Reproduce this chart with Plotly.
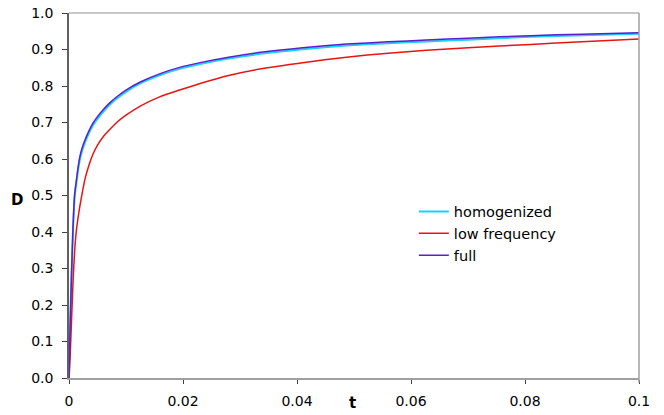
import plotly.graph_objects as go

t_vals = [0, 0.0002, 0.0004, 0.0007, 0.001, 0.0013, 0.0016, 0.0019, 0.0023, 0.0028,
          0.0035, 0.0042, 0.005, 0.006, 0.0071, 0.0085, 0.01, 0.0125, 0.016, 0.0194,
          0.023, 0.028, 0.034, 0.041, 0.0487, 0.056, 0.0627, 0.07, 0.081, 0.09, 0.1]

full = [0, 0.14, 0.26, 0.41, 0.505, 0.542, 0.578, 0.606, 0.630, 0.652,
        0.677, 0.698, 0.716, 0.735, 0.753, 0.772, 0.789, 0.811, 0.834, 0.851,
        0.864, 0.879, 0.893, 0.905, 0.915, 0.921, 0.926, 0.931, 0.938, 0.942, 0.946]

homogenized = [0, 0.14, 0.258, 0.405, 0.498, 0.535, 0.571, 0.598, 0.623, 0.645,
               0.671, 0.692, 0.710, 0.729, 0.748, 0.767, 0.784, 0.807, 0.830, 0.847,
               0.860, 0.875, 0.889, 0.901, 0.911, 0.917, 0.922, 0.927, 0.935, 0.939, 0.943]

low_frequency = [0, 0.06, 0.14, 0.26, 0.35, 0.405, 0.44, 0.47, 0.505, 0.545,
                 0.583, 0.613, 0.638, 0.661, 0.68, 0.702, 0.72, 0.745, 0.771, 0.789,
                 0.807, 0.829, 0.848, 0.864, 0.879, 0.89, 0.898, 0.905, 0.914, 0.921, 0.929]

x_tickvals = [0, 0.02, 0.04, 0.06, 0.08, 0.1]
x_ticktext = ["0", "0.02", "0.04", "0.06", "0.08", "0.1"]
y_tickvals = [0, 0.1, 0.2, 0.3, 0.4, 0.5, 0.6, 0.7, 0.8, 0.9, 1.0]

FONT = "DejaVu Sans"

fig = go.Figure()
fig.add_trace(go.Scatter(x=t_vals, y=homogenized, mode="lines", name="homogenized",
                         line=dict(color="#1ccfff", width=2, shape="spline", smoothing=0.6)))
fig.add_trace(go.Scatter(x=t_vals, y=low_frequency, mode="lines", name="low frequency",
                         line=dict(color="#e81414", width=1.5, shape="spline", smoothing=0.6)))
fig.add_trace(go.Scatter(x=t_vals, y=full, mode="lines", name="full",
                         line=dict(color="#5a1fc8", width=1.5, shape="spline", smoothing=0.6)))

fig.update_layout(
    width=664, height=415,
    margin=dict(l=69, r=25, t=13, b=37, autoexpand=False),
    paper_bgcolor="white", plot_bgcolor="white",
    font=dict(family=FONT, size=14, color="black"),
    showlegend=True,
    legend=dict(x=0.605, y=0.5, xanchor="left", yanchor="top",
                bgcolor="rgba(0,0,0,0)", font=dict(family=FONT, size=14.5),
                itemwidth=30, tracegroupgap=0),
    xaxis=dict(range=[0, 0.1], tickvals=x_tickvals, ticktext=x_ticktext,
               showgrid=False, zeroline=False, showline=True, automargin=False,
               linecolor="#a0a0a0", linewidth=2,
               ticks="outside", ticklen=4, tickcolor="#404040", tickwidth=1,
               ticklabelstandoff=5),
    yaxis=dict(range=[0, 1.0], tickvals=y_tickvals, tickformat=".1f",
               showgrid=False, zeroline=False, showline=True, automargin=False,
               linecolor="#606060", linewidth=1.5,
               ticks="outside", ticklen=5, tickcolor="#404040", tickwidth=1,
               ticklabelstandoff=6),
    shapes=[
        dict(type="line", xref="paper", yref="paper", x0=0, x1=1, y0=1, y1=1,
             line=dict(color="#c8c8c8", width=2)),
        dict(type="line", xref="paper", yref="paper", x0=1, x1=1, y0=-0.012, y1=1,
             line=dict(color="#a0a0a0", width=1.5)),
    ],
    annotations=[
        dict(text="<b>D</b>", xref="paper", yref="paper", x=-0.091, y=0.488,
             xanchor="center", yanchor="middle",
             showarrow=False, font=dict(family=FONT, size=15)),
        dict(text="<b>t</b>", xref="x", yref="paper", x=0.0498, y=-0.068,
             xanchor="center", yanchor="middle",
             showarrow=False, font=dict(family=FONT, size=15)),
    ],
)

fig.write_html("out.html")
